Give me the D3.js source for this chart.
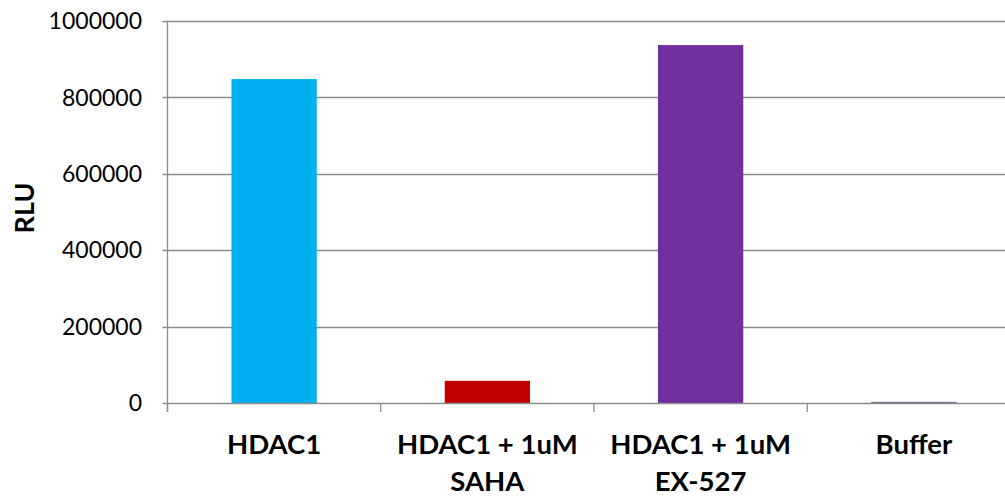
<!DOCTYPE html>
<html>
<head>
<meta charset="utf-8">
<script src="https://cdn.jsdelivr.net/npm/d3@7"></script>
<style>
  html, body { margin: 0; padding: 0; background: #fff; }
  svg { display: block; }
</style>
</head>
<body>
<svg id="chart" width="1005" height="496"></svg>
<script>
// Luminescence readout per condition
const categories = [["HDAC1"], ["HDAC1 + 1uM", "SAHA"], ["HDAC1 + 1uM", "EX-527"], ["Buffer"]];
const values = [848000, 58000, 937000, 3000];
const barColors = ["#00B0F0", "#C00000", "#7030A0", "#5E6F88"];
const yTicks = [0, 200000, 400000, 600000, 800000, 1000000];
const yLabel = "RLU";

const svg = d3.select("#chart");
const plotLeft = 167.5, plotRight = 1020.5, plotTop = 21, plotBottom = 403;
const keys = categories.map(c => c.join(" "));

const x = d3.scaleBand().domain(keys).range([plotLeft, plotRight]).paddingInner(0.6).paddingOuter(0.3);
const y = d3.scaleLinear().domain([0, 1000000]).range([plotBottom, plotTop]);
const step = x.step();
const gridColor = "#8c8c8c";

// horizontal gridlines
svg.append("g").selectAll("line").data(yTicks.filter(d => d > 0)).join("line")
  .attr("x1", plotLeft - 5).attr("x2", 1005)
  .attr("y1", d => Math.round(y(d)) + 0.5).attr("y2", d => Math.round(y(d)) + 0.5)
  .attr("stroke", gridColor).attr("stroke-width", 1.3);

// bars
svg.append("g").selectAll("rect").data(values).join("rect")
  .attr("x", (d, i) => x(keys[i]))
  .attr("width", x.bandwidth())
  .attr("y", d => y(d))
  .attr("height", d => plotBottom - y(d))
  .attr("fill", (d, i) => barColors[i]);

// value axis line and baseline
svg.append("line").attr("x1", plotLeft).attr("x2", plotLeft).attr("y1", plotTop).attr("y2", plotBottom + 9)
  .attr("stroke", gridColor).attr("stroke-width", 1.3);
svg.append("line").attr("x1", plotLeft - 5).attr("x2", 1005).attr("y1", plotBottom + 0.5).attr("y2", plotBottom + 0.5)
  .attr("stroke", gridColor).attr("stroke-width", 1.3);

// category separators below the baseline
svg.append("g").selectAll("line").data(d3.range(categories.length + 1)).join("line")
  .attr("x1", i => plotLeft + i * step).attr("x2", i => plotLeft + i * step)
  .attr("y1", plotBottom).attr("y2", plotBottom + 9)
  .attr("stroke", gridColor).attr("stroke-width", 1.3);

// y tick labels
svg.append("g").selectAll("text").data(yTicks).join("text")
  .attr("x", 142).attr("y", d => y(d))
  .attr("dy", "0.36em")
  .attr("text-anchor", "end")
  .attr("font-family", "Lato, 'Open Sans', sans-serif")
  .attr("font-size", 23)
  .attr("fill", "#000")
  .text(d => d);

// category labels
const catG = svg.append("g").selectAll("text").data(categories).join("text")
  .attr("text-anchor", "middle")
  .attr("font-family", "Lato, 'Open Sans', sans-serif")
  .attr("font-weight", "bold")
  .attr("font-size", 27.5)
  .attr("fill", "#000");
catG.each(function(lines, i) {
  const cx = x(keys[i]) + x.bandwidth() / 2;
  d3.select(this).selectAll("tspan").data(lines).join("tspan")
    .attr("x", cx)
    .attr("y", (l, j) => 454 + j * 37)
    .text(l => l);
});

// axis title
svg.append("text")
  .attr("transform", "translate(34,208) rotate(-90)")
  .attr("text-anchor", "middle")
  .attr("font-family", "Lato, 'Open Sans', sans-serif")
  .attr("font-weight", "bold")
  .attr("font-size", 27)
  .attr("fill", "#000")
  .text(yLabel);
</script>
</body>
</html>
